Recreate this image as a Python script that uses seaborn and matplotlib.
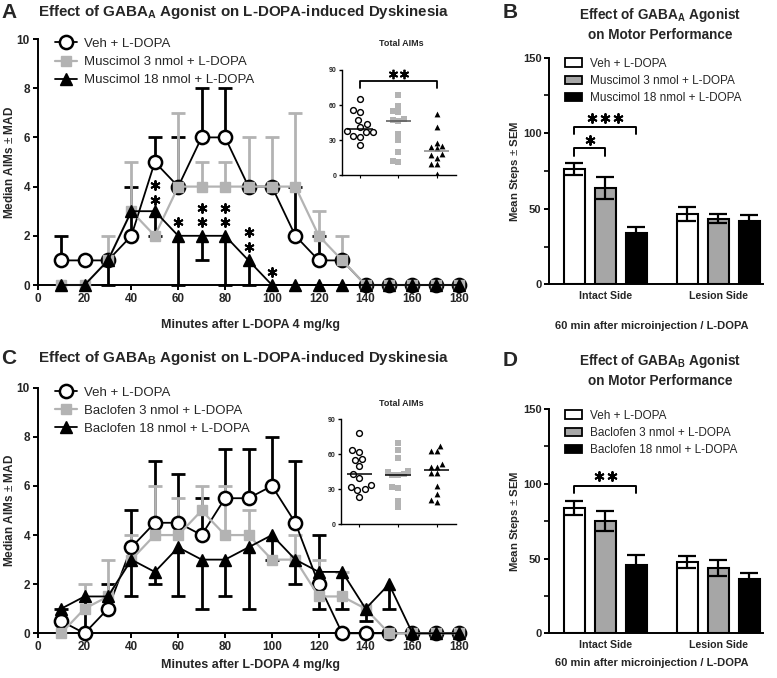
import matplotlib
matplotlib.use("Agg")
import matplotlib.pyplot as plt
from matplotlib.patches import Patch
import numpy as np
import pandas as pd
import seaborn as sns

# ---- time course data (median AIMs) ----
minutes = [10, 20, 30, 40, 50, 60, 70, 80, 90, 100, 110, 120, 130, 140, 150, 160, 170, 180]

veh_a = [1, 1, 1, 2, 5, 4, 6, 6, 4, 4, 2, 1, 1, 0, 0, 0, 0, 0]
veh_a_hi = [2, 1, 1, 4, 6, 6, 8, 8, 4, 4, 4, 2, 1, 0, 0, 0, 0, 0]
mus3_a = [0, 0, 1, 3, 2, 4, 4, 4, 4, 4, 4, 2, 1, 0, 0, 0, 0, 0]
mus3_a_hi = [0, 0, 2, 5, 2, 7, 5, 5, 6, 6, 7, 3, 2, 0, 0, 0, 0, 0]
mus18_a = [0, 0, 1, 3, 3, 2, 2, 2, 1, 0, 0, 0, 0, 0, 0, 0, 0, 0]
mus18_a_lo = [0, 0, 0, 3, 2, 0, 1, 0, 0, 0, 0, 0, 0, 0, 0, 0, 0, 0]
stars_a = [(50, 4.07), (50, 3.46), (60, 2.57), (70, 3.12), (70, 2.57),
           (80, 3.12), (80, 2.57), (90, 2.17), (90, 1.56), (100, 0.54)]

veh_c = [0.5, 0, 1, 3.5, 4.5, 4.5, 4, 5.5, 5.5, 6, 4.5, 2, 0, 0, 0, 0, 0, 0]
veh_c_hi = [1, 0, 2, 5, 7, 6.5, 5.5, 7.5, 7.5, 8, 7, 4, 0, 0, 0, 0, 0, 0]
bac3_c = [0, 1, 1.5, 3, 4, 4, 5, 4, 4, 3, 3, 1.5, 1.5, 1, 0, 0, 0, 0]
bac3_c_hi = [0, 2, 3, 4, 6, 5.5, 6, 6, 5, 3, 4, 3, 2.5, 1, 0, 0, 0, 0]
bac18_c = [1, 1.5, 1.5, 3, 2.5, 3.5, 3, 3, 3.5, 4, 3, 2.5, 2.5, 1, 2, 0, 0, 0]
bac18_c_lo = [1, 0, 1.5, 1.5, 2, 1.5, 1, 1.5, 1, 3, 2, 1, 1, 0.5, 1, 0, 0, 0]

# ---- total AIMs (insets) ----
tot_veh_a = [65, 56, 54, 47, 44, 41, 38, 37, 37, 34, 33, 26]
tot_mus3_a = [69, 59, 55, 54, 48, 47, 46, 35, 30, 20, 12, 11]
tot_mus18_a = [52, 41, 28, 25, 24, 23, 18, 17, 15, 10, 10, 1]
tot_veh_c = [78, 64, 62, 56, 55, 50, 43, 40, 34, 32, 30, 29, 23]
tot_bac3_c = [70, 64, 57, 46, 45, 43, 42, 42, 32, 31, 20, 15]
tot_bac18_c = [67, 63, 63, 52, 49, 49, 44, 44, 33, 26, 21, 19]

# ---- stepping test (mean +- SEM) ----
sides = ["Intact Side", "Lesion Side"]
b_intact = [76.4, 63.8, 34.2]
b_intact_sem = [4.2, 7.2, 4.0]
b_lesion = [46.7, 43.3, 42.2]
b_lesion_sem = [4.6, 3.0, 3.6]
d_intact = [84.0, 74.9, 45.6]
d_intact_sem = [4.6, 6.8, 7.0]
d_lesion = [47.8, 43.8, 36.4]
d_lesion_sem = [4.0, 5.5, 4.2]

lab_a = ["Veh + L-DOPA", "Muscimol 3 nmol + L-DOPA", "Muscimol 18 nmol + L-DOPA"]
lab_c = ["Veh + L-DOPA", "Baclofen 3 nmol + L-DOPA", "Baclofen 18 nmol + L-DOPA"]

GRAY = "#b3b3b3"
BARGRAY = "#a6a6a6"

sns.set_style("ticks")
plt.rcParams["font.family"] = ["Liberation Sans", "DejaVu Sans"]
plt.rcParams["mathtext.fontset"] = "custom"
plt.rcParams["mathtext.bf"] = "Liberation Sans:bold"
plt.rcParams["mathtext.rm"] = "Liberation Sans"

W, H = 777, 678
fig = plt.figure(figsize=(W / 100, H / 100), dpi=100)


def rect(x0, y_top, x1, y_bot):
    return [x0 / W, 1 - y_bot / H, (x1 - x0) / W, (y_bot - y_top) / H]


def fpos(x, y):
    return x / W, 1 - y / H


def style_axes(ax, lw=1.4, ticklen=3.6, size=8.5):
    sns.despine(ax=ax)
    for s in ["left", "bottom"]:
        ax.spines[s].set_linewidth(lw)
        ax.spines[s].set_color("black")
    ax.tick_params(width=lw, length=ticklen, labelsize=size, color="black", pad=2)
    for t in ax.get_xticklabels() + ax.get_yticklabels():
        t.set_fontweight("bold")


def stars(ax, xc, y, n, dx, ms=7.2, mew=1.4):
    xs = [xc + (i - (n - 1) / 2) * dx for i in range(n)]
    ax.plot(xs, [y] * n, ls="none", marker=(6, 2, 0), ms=ms, mew=mew,
            color="black", clip_on=False, zorder=10)


def one_side(ax, vals, ends, color, z):
    x = np.array(minutes)
    v = np.array(vals, float)
    e = np.array(ends, float)
    m = e != v
    ax.vlines(x[m], v[m], e[m], color=color, lw=2.0, zorder=z, clip_on=False)
    ax.plot(x[m], e[m], ls="none", marker="_", ms=10, mew=2.0, color=color,
            zorder=z, clip_on=False)


def course(ax, veh, veh_hi, low, low_hi, high, high_lo, labels, star_list, xlab_y, leg_y):
    one_side(ax, veh, veh_hi, "black", 2)
    one_side(ax, low, low_hi, GRAY, 3)
    one_side(ax, high, high_lo, "black", 4)
    sns.lineplot(x=minutes, y=veh, ax=ax, color="black", lw=1.3, marker="o",
                 markersize=9.5, markerfacecolor="white", markeredgecolor="black",
                 markeredgewidth=1.8, label=labels[0], clip_on=False, zorder=5)
    sns.lineplot(x=minutes, y=low, ax=ax, color=GRAY, lw=1.6, marker="s",
                 markersize=7.5, markerfacecolor=GRAY, markeredgecolor=GRAY,
                 markeredgewidth=1, label=labels[1], clip_on=False, zorder=6)
    sns.lineplot(x=minutes, y=high, ax=ax, color="black", lw=1.3, marker="^",
                 markersize=8, markerfacecolor="black", markeredgecolor="black",
                 markeredgewidth=1, label=labels[2], clip_on=False, zorder=7)
    for (sx, sy) in star_list:
        stars(ax, sx, sy, 1, 0)
    ax.set_xlim(0, 182)
    ax.set_ylim(0, 10)
    ax.set_xticks(range(0, 181, 20))
    ax.set_yticks(range(0, 11, 2))
    ax.set_xlabel("Minutes after L-DOPA 4 mg/kg", fontsize=9, fontweight="bold")
    ax.set_ylabel("Median AIMs $\\pm$ MAD", fontsize=8.5, fontweight="bold")
    ax.xaxis.set_label_coords(0.5, xlab_y)
    ax.yaxis.set_label_coords(-0.065, 0.5)
    ax.yaxis.label.set_va("center")
    style_axes(ax)
    h, l = ax.get_legend_handles_labels()
    ax.legend(h, l, loc="upper left", bbox_to_anchor=(0.04, leg_y), frameon=False,
              fontsize=9.5, borderpad=0, borderaxespad=0, handlelength=1.7,
              handletextpad=0.55, labelspacing=0.45)


def inset(rect_, vals, med_colors, bracket=None):
    ax = fig.add_axes(rect_)
    names = ["veh", "low", "high"]
    specs = [dict(marker="o", color="white", edgecolor="black", linewidth=1.0, size=4.2),
             dict(marker="s", color=GRAY, linewidth=0, size=4.0),
             dict(marker="^", color="black", linewidth=0, size=4.2)]
    for name, v, sp in zip(names, vals, specs):
        sns.swarmplot(x=[name] * len(v), y=v, order=names, ax=ax, zorder=3, **sp)
    for i, (v, c) in enumerate(zip(vals, med_colors)):
        ax.hlines(np.median(v), i - 0.33, i + 0.33, color=c, lw=1.1, zorder=4)
    ax.set_xlim(-0.48, 2.5)
    ax.set_ylim(0, 90)
    ax.set_yticks([0, 30, 60, 90])
    ax.set_xticks([0, 1, 2])
    ax.set_xticklabels([])
    ax.set_xlabel("")
    style_axes(ax, lw=1.0, ticklen=2, size=5)
    ax.tick_params(axis="x", length=2.5, width=0.8)
    if bracket:
        ax.plot([0, 0, 2, 2], [75, 80.5, 80.5, 75], color="black", lw=1.3, clip_on=False)
        stars(ax, 1, 87, 2, 0.3, ms=6.8, mew=1.3)
    return ax


def bars(ax, intact, intact_sem, lesion, lesion_sem, labels, brackets, xlab_y, leg_y):
    df = pd.DataFrame({"side": [sides[0]] * 3 + [sides[1]] * 3,
                       "group": labels * 2,
                       "mean": intact + lesion})
    sems = {(0, m): s for m, s in zip(intact, intact_sem)}
    sems.update({(1, m): s for m, s in zip(lesion, lesion_sem)})
    pal = ["white", BARGRAY, "black"]
    sns.barplot(data=df, x="side", y="mean", hue="group", hue_order=labels,
                palette=pal, edgecolor="black", linewidth=1.5, width=0.823,
                gap=0.32, errorbar=None, ax=ax, zorder=2)
    xs, ys, es = [], [], []
    for p in ax.patches:
        cx = p.get_x() + p.get_width() / 2
        h = p.get_height()
        side = 0 if cx < 0.5 else 1
        for k, s in sems.items():
            if k[0] == side and abs(k[1] - h) < 1e-6:
                xs.append(cx); ys.append(h); es.append(s)
    ax.errorbar(xs, ys, yerr=es, fmt="none", ecolor="black", elinewidth=1.6,
                capsize=6.5, capthick=1.6, zorder=3)
    step = 0.823 / 3
    for (j, ytop, ylo, n, ystar) in brackets:
        x0, x1 = -step, -step + j * step
        ax.plot([x0, x0, x1, x1], [ylo, ytop, ytop, ylo], color="black", lw=1.4)
        stars(ax, (x0 + x1) / 2, ystar, n, 0.115, ms=7.2, mew=1.4)
    ax.set_xlim(-0.497, 1.394)
    ax.set_ylim(0, 150)
    ax.set_yticks([0, 50, 100, 150])
    ax.set_yticks([25, 75, 125], minor=True)
    ax.set_xlabel("60 min after microinjection / L-DOPA", fontsize=8, fontweight="bold")
    ax.set_ylabel("Mean Steps $\\pm$ SEM", fontsize=8.2, fontweight="bold")
    ax.xaxis.set_label_coords(0.48, xlab_y)
    ax.yaxis.set_label_coords(-0.16, 0.5)
    ax.yaxis.label.set_va("center")
    style_axes(ax, size=8)
    ax.tick_params(axis="x", length=0, labelsize=7.6, pad=5)
    ax.tick_params(axis="y", which="minor", width=1.4, length=3.6)
    for t in ax.get_xticklabels():
        t.set_fontweight("bold")
    handles = [Patch(facecolor=c, edgecolor="black", linewidth=1.3) for c in pal]
    ax.legend(handles, labels, loc="upper left", bbox_to_anchor=(0.075, leg_y),
              frameon=False, fontsize=8.5, borderpad=0, borderaxespad=0,
              handlelength=1.45, handleheight=0.72, handletextpad=0.65,
              labelspacing=0.45)


# ---- panel A ----
axA = fig.add_axes(rect(37.7, 39, 464, 285))
course(axA, veh_a, veh_a_hi, mus3_a, mus3_a_hi, mus18_a, mus18_a_lo, lab_a, stars_a,
       -0.138, 1.005)
insA = inset(rect(341.7, 70, 456, 175.3), [tot_veh_a, tot_mus3_a, tot_mus18_a],
             ["black", "#555555", "#888888"], bracket=True)
fig.text(*fpos(401, 44), "Total AIMs", fontsize=6.5, fontweight="bold", ha="center", va="center")

# ---- panel C ----
axC = fig.add_axes(rect(37.7, 387.7, 464, 633.3))
course(axC, veh_c, veh_c_hi, bac3_c, bac3_c_hi, bac18_c, bac18_c_lo, lab_c, [],
       -0.105, 1.005)
insC = inset(rect(340.7, 419.3, 456, 524.3), [tot_veh_c, tot_bac3_c, tot_bac18_c],
             ["black", "black", "black"])
fig.text(*fpos(401, 403), "Total AIMs", fontsize=6.5, fontweight="bold", ha="center", va="center")

# ---- panel B ----
axB = fig.add_axes(rect(549.3, 57.7, 763, 284.3))
bars(axB, b_intact, b_intact_sem, b_lesion, b_lesion_sem, lab_a,
     [(1, 90, 85, 1, 95.5), (2, 104, 99.6, 3, 110)], -0.162, 1.0)

# ---- panel D ----
axD = fig.add_axes(rect(549.3, 409, 763, 633.3))
bars(axD, d_intact, d_intact_sem, d_lesion, d_lesion_sem, lab_c,
     [(2, 98.2, 93.8, 2, 105)], -0.108, 0.997)

# ---- titles and panel letters ----
tkw = dict(fontweight="bold", va="center")
fig.text(*fpos(1, 12), "A", fontsize=15, **tkw)
fig.text(*fpos(38, 12), r"Effect of GABA$_{\mathbf{A}}$ Agonist on L-DOPA-induced Dyskinesia",
         fontsize=10.9, **tkw)
fig.text(*fpos(1, 358), "C", fontsize=15, **tkw)
fig.text(*fpos(38, 358), r"Effect of GABA$_{\mathbf{B}}$ Agonist on L-DOPA-induced Dyskinesia",
         fontsize=10.9, **tkw)
fig.text(*fpos(503, 12), "B", fontsize=15, **tkw)
fig.text(*fpos(660, 24), "Effect of GABA$_{\\mathbf{A}}$ Agonist\non Motor Performance",
         fontsize=9.8, ha="center", linespacing=1.35, **tkw)
fig.text(*fpos(503, 360), "D", fontsize=15, **tkw)
fig.text(*fpos(660, 370), "Effect of GABA$_{\\mathbf{B}}$ Agonist\non Motor Performance",
         fontsize=9.8, ha="center", linespacing=1.35, **tkw)

fig.savefig("out.png", dpi=100)
